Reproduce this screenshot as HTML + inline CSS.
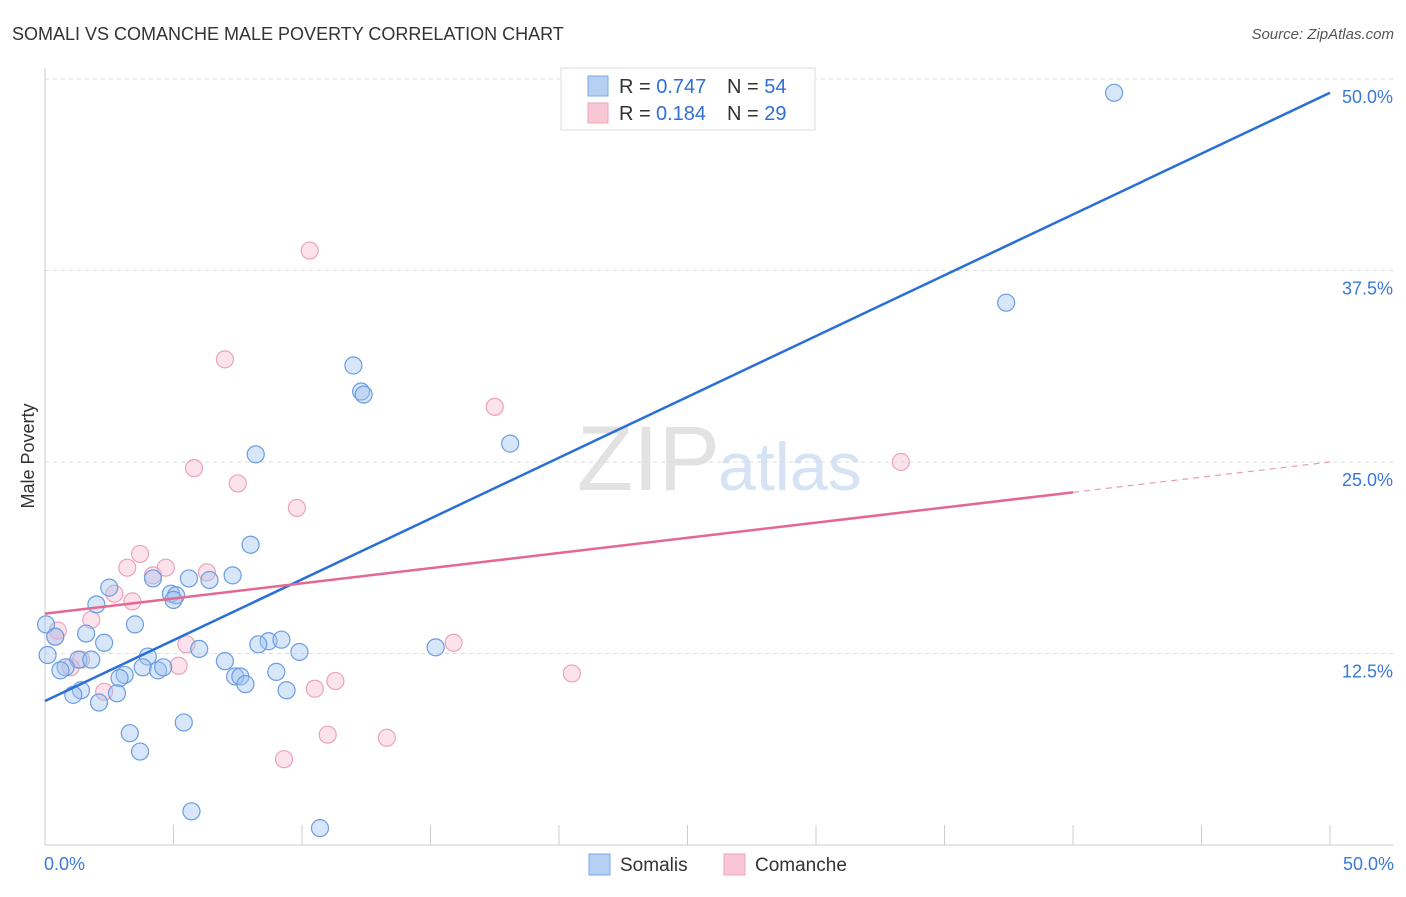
<!DOCTYPE html>
<html><head><meta charset="utf-8"><style>
body{margin:0;background:#fff;font-family:"Liberation Sans",sans-serif}
svg text{font-family:"Liberation Sans",sans-serif}
</style></head><body>
<svg width="1406" height="892" xmlns="http://www.w3.org/2000/svg">
<text x="12" y="40" font-size="18" fill="#333">SOMALI VS COMANCHE MALE POVERTY CORRELATION CHART</text>
<text x="1394" y="39" font-size="15" fill="#555" text-anchor="end" font-style="italic">Source: ZipAtlas.com</text>
<text x="720" y="490" font-size="92" fill="#e2e2e2" text-anchor="end" font-family="Liberation Serif">ZIP</text>
<text x="718" y="490" font-size="68" fill="#d5e3f5">atlas</text>
<g id="grid"></g>
<g id="axes"></g>
<g id="pts"></g>
<g id="lines"></g>
<text transform="translate(34,456) rotate(-90)" font-size="18" fill="#333" text-anchor="middle">Male Poverty</text>
<g>
<rect x="561" y="68" width="254" height="62" fill="#fff" stroke="#ddd"/>
<rect x="588" y="76" width="20" height="20" fill="#b5d0f3" stroke="#7aa8e6"/>
<rect x="588" y="103" width="20" height="20" fill="#f9c6d6" stroke="#eea4bd"/>
<text x="619" y="93" font-size="20" fill="#333">R = <tspan fill="#2f6fd6">0.747</tspan><tspan x="727">N = </tspan><tspan fill="#2f6fd6">54</tspan></text>
<text x="619" y="120" font-size="20" fill="#333">R = <tspan fill="#2f6fd6" x="656">0.184</tspan><tspan x="727">N = </tspan><tspan fill="#2f6fd6">29</tspan></text>
</g>
<g>
<rect x="589" y="854" width="21" height="21" fill="#b5d0f3" stroke="#7aa8e6"/>
<text x="620" y="871" font-size="19" fill="#333">Somalis</text>
<rect x="724" y="854" width="21" height="21" fill="#f9c6d6" stroke="#eea4bd"/>
<text x="755" y="871" font-size="19" fill="#333">Comanche</text>
</g>
</svg>
<script>
const somaliX=[41.6,37.4,12.0,12.3,12.4,18.1,8.2,8.0,7.3,5.6,6.4,4.2,4.9,5.1,5.0,2.5,2.0,3.5,1.6,0.04,0.4,2.3,8.7,8.3,9.2,9.9,6.0,15.2,0.1,1.3,1.8,4.0,0.8,0.6,3.8,4.4,4.6,7.0,9.0,3.1,2.9,7.4,7.6,7.8,1.4,1.1,2.8,9.4,2.1,3.3,5.4,3.7,5.7,10.7];
const somaliY=[49.1,35.4,31.3,29.6,29.4,26.2,25.5,19.6,17.6,17.4,17.3,17.4,16.4,16.3,16.0,16.8,15.7,14.4,13.8,14.4,13.6,13.2,13.3,13.1,13.4,12.6,12.8,12.9,12.4,12.1,12.1,12.3,11.6,11.4,11.6,11.4,11.6,12.0,11.3,11.1,10.9,11.0,11.0,10.5,10.1,9.8,9.9,10.1,9.3,7.3,8.0,6.1,2.2,1.1];
const comancheX=[10.3,7.0,17.5,5.8,7.5,33.3,9.8,3.7,3.2,4.7,4.2,6.3,2.7,3.4,1.8,0.5,0.4,5.5,15.9,1.4,5.2,1.0,20.5,2.3,10.5,11.3,11.0,13.3,9.3];
const comancheY=[38.8,31.7,28.6,24.6,23.6,25.0,22.0,19.0,18.1,18.1,17.6,17.8,16.4,15.9,14.7,14.0,13.6,13.1,13.2,12.1,11.7,11.6,11.2,10.0,10.2,10.7,7.2,7.0,5.6];
const somaliTrend=[9.4,49.1];   // y at x=0 and x=50
const comancheTrend=[15.1,25.0]; // y at x=0 and x=50
const comancheSolidEnd=40;
const yTicks=[12.5,25.0,37.5,50.0];
const xTickLabels=["0.0%","50.0%"];
const NS="http://www.w3.org/2000/svg";
const X=v=>45+v/50*1285, Y=v=>845-v/50*766;
function mk(t,a,p){const e=document.createElementNS(NS,t);for(const k in a)e.setAttribute(k,a[k]);p.appendChild(e);return e;}
const grid=document.getElementById('grid'),axes=document.getElementById('axes'),pts=document.getElementById('pts'),lines=document.getElementById('lines');
yTicks.forEach(v=>{
 const l=mk('line',{x1:45,x2:1393,y1:Y(v),y2:Y(v),stroke:'#ddd','stroke-dasharray':'4,4'},grid);
 
 
 const t=mk('text',{x:1393,y:Y(v)+24,'font-size':18,fill:'#3b78d8','text-anchor':'end'},axes);
 t.textContent=v.toFixed(1)+'%';
 
 
});
mk('line',{x1:45,x2:45,y1:68,y2:845,stroke:'#ccc'},axes);
mk('line',{x1:45,x2:1393,y1:845,y2:845,stroke:'#ccc'},axes);
for(let i=0;i<=10;i++){const t=mk('line',{x1:X(i*5),x2:X(i*5),y1:825,y2:845,stroke:'#ccc'},axes);
 
 }
[[0,'start'],[50,'end']].forEach((d,i)=>{const t=mk('text',{x:d[0]==0?44:1394,y:870,'font-size':18,fill:'#3b78d8','text-anchor':d[1]},axes);t.textContent=xTickLabels[i];
 
 });
function dots(xs,ys,fill,stroke,name){xs.forEach((x,i)=>{const c=mk('circle',{cx:X(x),cy:Y(ys[i]),r:8.5,fill:fill,stroke:stroke,'stroke-width':1.2},pts);
 
 });}
dots(comancheX,comancheY,'rgba(246,182,202,0.38)','#eba3bb','comanche-point');
dots(somaliX,somaliY,'rgba(160,196,240,0.42)','#6b9de2','somali-point');
const bl=mk('line',{x1:X(0),y1:Y(somaliTrend[0]),x2:X(50),y2:Y(somaliTrend[1]),stroke:'#2a6fd6','stroke-width':2.5},lines);


const cy=x=>comancheTrend[0]+(comancheTrend[1]-comancheTrend[0])*x/50;
const pl=mk('line',{x1:X(0),y1:Y(cy(0)),x2:X(comancheSolidEnd),y2:Y(cy(comancheSolidEnd)),stroke:'#e4688f','stroke-width':2.5},lines);


const pd=mk('line',{x1:X(comancheSolidEnd),y1:Y(cy(comancheSolidEnd)),x2:X(50),y2:Y(cy(50)),stroke:'#e89ab3','stroke-width':1.2,'stroke-dasharray':'6,5'},lines);


</script>
</body></html>
